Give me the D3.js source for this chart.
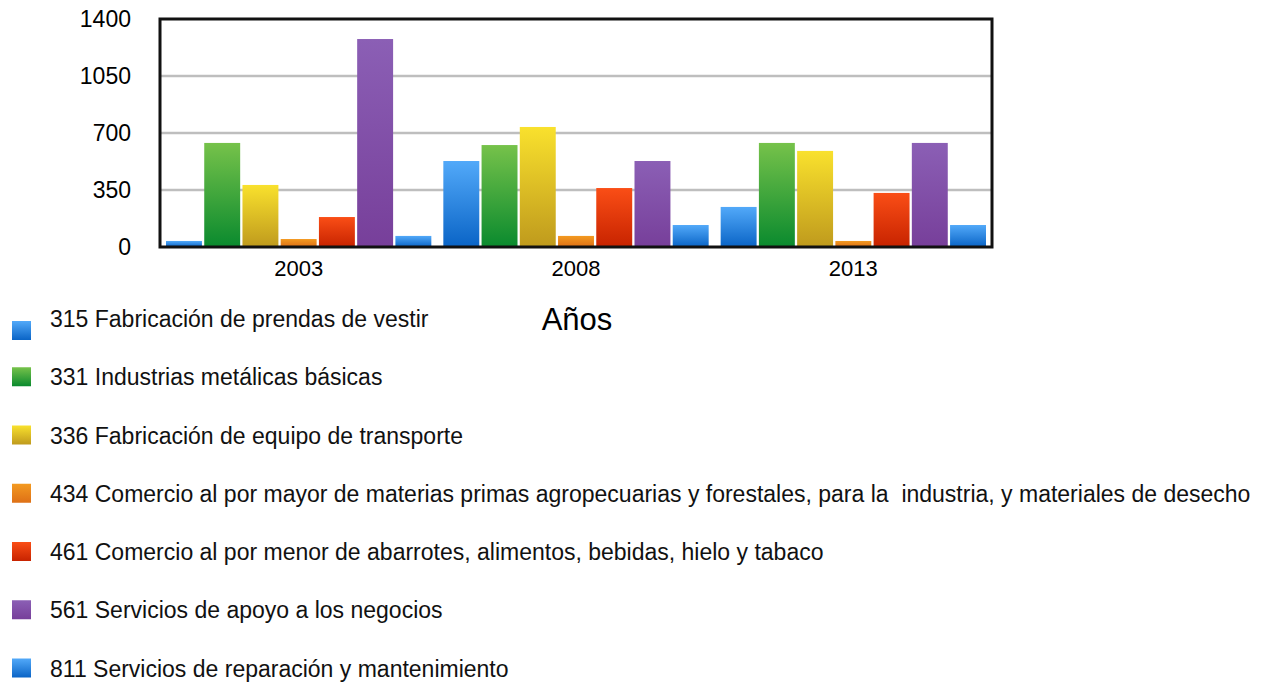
<!DOCTYPE html>
<html>
<head>
<meta charset="utf-8">
<script src="https://cdn.jsdelivr.net/npm/d3@7"></script>
<style>
  body { margin: 0; background: #fff; }
  svg { display: block; font-family: "Liberation Sans", Arial, Helvetica, sans-serif; }
  .legend text { white-space: pre; }
</style>
</head>
<body>
<svg id="chart" width="1271" height="685"></svg>
<script>
"use strict";

// data
var years = ["2003", "2008", "2013"];
var seriesNames = [
	"315 Fabricación de prendas de vestir",
	"331 Industrias metálicas básicas",
	"336 Fabricación de equipo de transporte",
	"434 Comercio al por mayor de materias primas agropecuarias y forestales, para la  industria, y materiales de desecho",
	"461 Comercio al por menor de abarrotes, alimentos, bebidas, hielo y tabaco",
	"561 Servicios de apoyo a los negocios",
	"811 Servicios de reparación y mantenimiento"
];
var values2003 = [37, 639, 381, 49, 184, 1277, 68];
var values2008 = [528, 626, 737, 68, 362, 528, 135];
var values2013 = [246, 639, 590, 37, 332, 639, 135];
var yTicks = [0, 350, 700, 1050, 1400];
var xTitle = "Años";

var seriesColors = [
	["#52a9f9", "#0a64c6"],
	["#76c24a", "#0a8a2e"],
	["#f9e12d", "#bf9a1d"],
	["#f39a21", "#de7016"],
	["#fa4e16", "#c72300"],
	["#8b5fb5", "#773f9a"],
	["#52a9f9", "#0a64c6"]
];

var table = [values2003, values2008, values2013];

var svg = d3.select("#chart");
var plot = {left: 160, right: 992, top: 19, bottom: 247};

var defs = svg.append("defs");
seriesColors.forEach(function(c, i) {
	var g = defs.append("linearGradient")
		.attr("id", "grad" + i)
		.attr("x1", 0).attr("y1", 0).attr("x2", 0).attr("y2", 1);
	g.append("stop").attr("offset", "0%").attr("stop-color", c[0]);
	g.append("stop").attr("offset", "100%").attr("stop-color", c[1]);
});

var y = d3.scaleLinear().domain([0, 1400]).range([plot.bottom, plot.top]);
var x0 = d3.scaleBand().domain(years).range([plot.left, plot.right]);
var x1 = d3.scaleBand().domain(d3.range(seriesNames.length))
	.range([6, x0.bandwidth() - 6]).paddingInner(0.06);

// gridlines
svg.append("g")
	.selectAll("line")
	.data(yTicks.slice(1, -1))
	.enter()
	.append("line")
	.attr("x1", plot.left).attr("x2", plot.right)
	.attr("y1", d => y(d)).attr("y2", d => y(d))
	.attr("stroke", "#bebebe")
	.attr("stroke-width", 2.5);

// bars
var groups = svg.append("g")
	.selectAll("g")
	.data(years)
	.enter()
	.append("g")
	.attr("transform", d => "translate(" + x0(d) + ",0)");

groups.selectAll("rect")
	.data((d, i) => table[i].map((v, s) => ({s: s, v: v})))
	.enter()
	.append("rect")
	.attr("x", d => x1(d.s))
	.attr("width", x1.bandwidth())
	.attr("y", d => y(d.v))
	.attr("height", d => y(0) - y(d.v))
	.attr("fill", d => "url(#grad" + d.s + ")");

// frame
svg.append("rect")
	.attr("x", plot.left).attr("y", plot.top)
	.attr("width", plot.right - plot.left)
	.attr("height", plot.bottom - plot.top)
	.attr("fill", "none")
	.attr("stroke", "#111")
	.attr("stroke-width", 3);

// y axis labels
var yAxis = d3.axisLeft(y).tickValues(yTicks).tickFormat(d3.format("d"))
	.tickSize(0).tickPadding(0);
var ya = svg.append("g")
	.attr("transform", "translate(131,0)")
	.call(yAxis);
ya.select(".domain").remove();
ya.selectAll("text")
	.attr("font-size", 23)
	.attr("font-family", null)
	.attr("fill", "#000");

// x axis labels
var xAxis = d3.axisBottom(x0).tickSize(0).tickPadding(0);
var xa = svg.append("g")
	.attr("transform", "translate(0," + (plot.bottom + 13) + ")")
	.call(xAxis);
xa.select(".domain").remove();
xa.selectAll("text")
	.attr("font-size", 22)
	.attr("font-family", null)
	.attr("fill", "#000");

svg.append("text")
	.attr("x", 577)
	.attr("y", 330)
	.attr("text-anchor", "middle")
	.attr("font-size", 31)
	.text(xTitle);

// legend
var rowStep = 58.25;
var legend = svg.append("g")
	.attr("class", "legend")
	.selectAll("g")
	.data(seriesNames)
	.enter()
	.append("g")
	.attr("transform", (d, i) => "translate(0," + (327 + i * rowStep) + ")");

legend.append("rect")
	.attr("x", 12)
	.attr("y", (d, i) => i === 0 ? -6 : -18)
	.attr("width", 19)
	.attr("height", 19)
	.attr("fill", (d, i) => "url(#grad" + i + ")");

legend.append("text")
	.attr("x", 50)
	.attr("y", 0)
	.attr("font-size", 23)
	.attr("fill", "#111")
	.text(d => d);
</script>
</body>
</html>
